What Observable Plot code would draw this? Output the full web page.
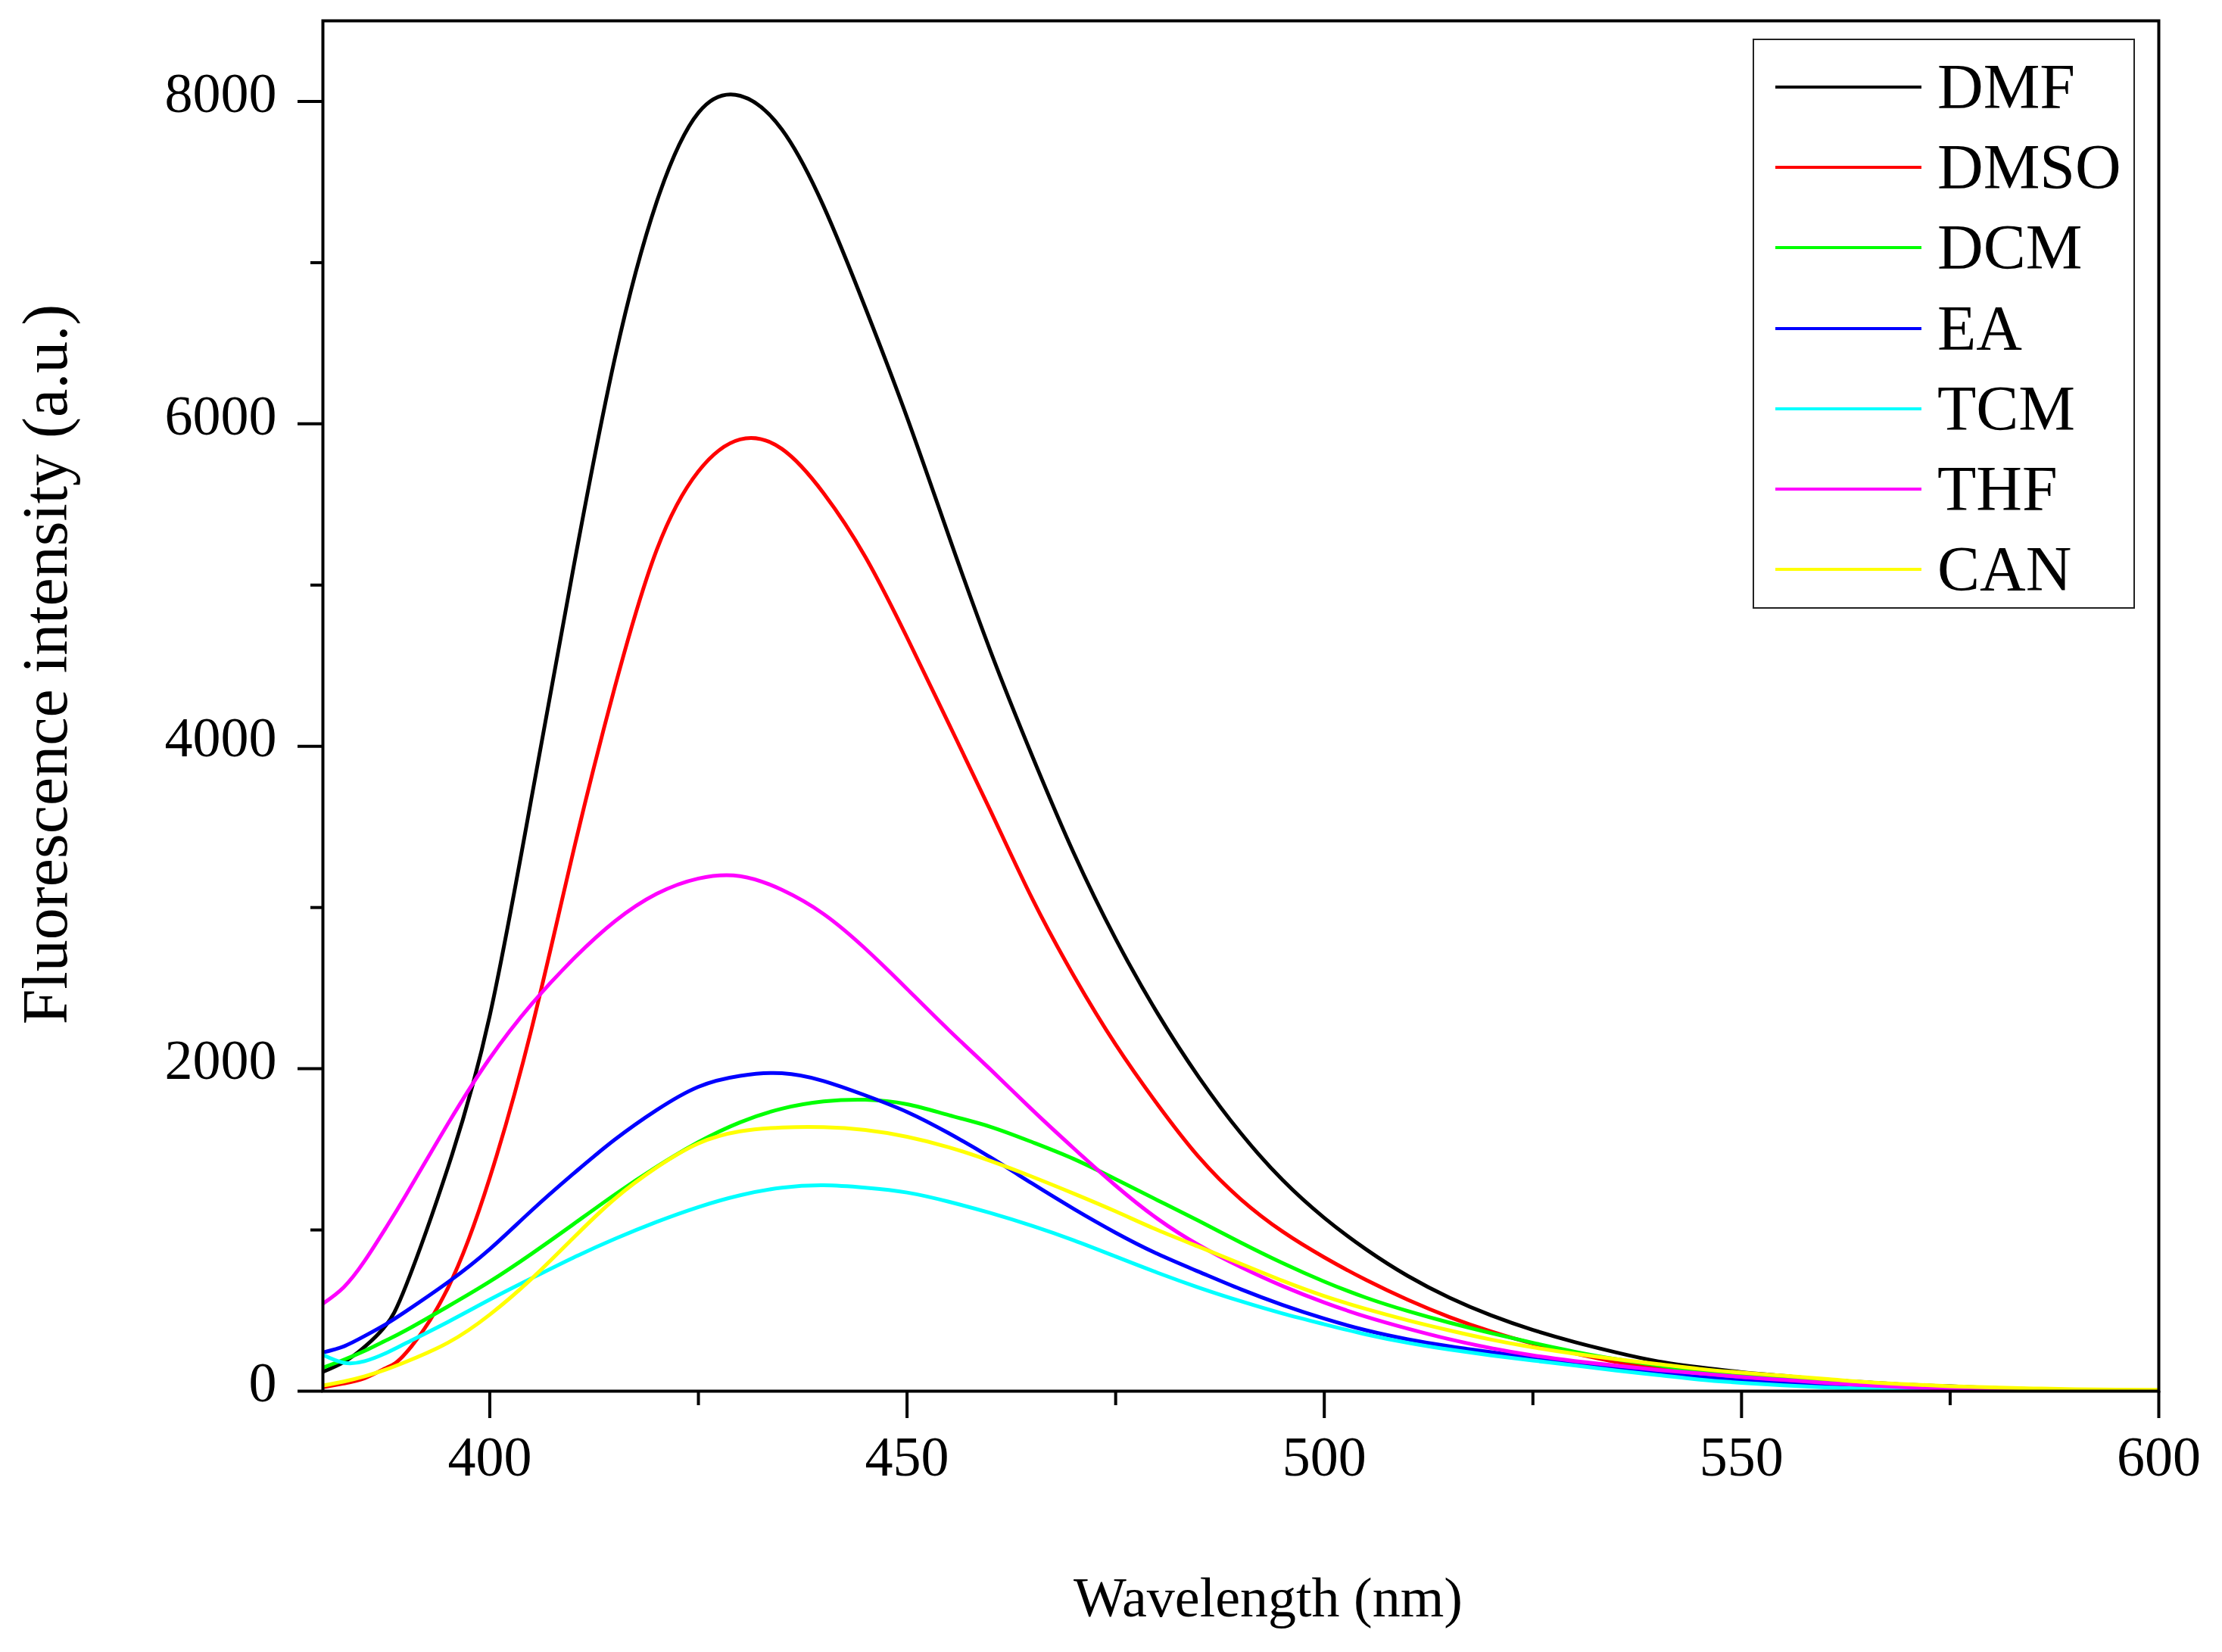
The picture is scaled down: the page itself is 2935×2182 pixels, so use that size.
<!DOCTYPE html>
<html><head><meta charset="utf-8">
<script src="https://cdn.jsdelivr.net/npm/d3@7"></script>
<script src="https://cdn.jsdelivr.net/npm/@observablehq/plot@0.6"></script>
<style>
body{margin:0;background:#fff;}
#wrap{position:relative;width:2935px;height:2182px;font-family:"Liberation Serif","Times New Roman",serif;}
#legend{position:absolute;left:2315px;top:51px;width:501px;height:749px;border:2px solid #222;}
.row{position:absolute;left:0;height:106px;display:flex;align-items:center;}
.sw{width:193px;height:0;border-top:4px solid;margin-left:28px;margin-right:21px;}
.lab{font-size:84px;line-height:1;color:#000;white-space:nowrap;}
</style></head><body><div id="wrap"></div>
<script>
const wavelength = [380,382.5,385,387.5,390,395,400,405,410,415,420,425,430,435,440,445,450,455,460,465,470,475,480,485,490,495,500,505,510,515,520,525,530,535,540,545,550,555,560,565,570,575,580,585,590,595,600];
const solvents = ["DMF","DMSO","DCM","EA","TCM","THF","CAN"];
const colors = ["#000000","#ff0000","#00ff00","#0000ff","#00ffff","#ff00ff","#ffff00"];

const DMF  = [120,180,275,405,660,1390,2330,3680,5100,6410,7377,7930,8035,7826,7350,6720,6040,5305,4590,3940,3335,2805,2345,1945,1600,1310,1075,880,715,580,470,380,305,240,185,148,118,95,72,55,40,30,20,13,8,4,1];
const DMSO = [25,48,80,142,240,642,1324,2246,3345,4370,5218,5706,5904,5845,5570,5175,4675,4140,3600,3055,2575,2150,1780,1450,1190,990,830,690,567,460,370,295,235,182,145,112,88,68,52,40,30,21,14,9,5,2,0];
const DCM  = [146,195,250,313,379,526,680,852,1035,1220,1392,1545,1668,1752,1797,1808,1780,1712,1640,1545,1440,1315,1185,1055,922,795,680,580,497,425,360,300,245,198,160,126,100,78,60,45,33,23,15,9,5,2,0];
const EA   = [240,278,342,414,497,676,881,1120,1348,1561,1744,1888,1956,1972,1924,1835,1732,1600,1450,1288,1130,983,852,740,632,535,450,378,322,278,242,208,175,145,115,88,66,48,34,22,14,8,5,3,2,1,0];
const TCM  = [225,176,186,235,299,430,568,700,828,945,1050,1142,1215,1262,1277,1262,1232,1175,1105,1025,935,835,735,642,558,482,415,352,300,258,222,190,160,128,100,72,52,36,24,15,8,3,1,0,0,0,0];
const THF  = [543,645,808,1009,1221,1660,2065,2400,2680,2915,3085,3180,3195,3110,2960,2745,2495,2240,1995,1745,1505,1275,1070,905,770,652,550,462,388,322,267,222,187,158,132,110,88,70,52,36,24,15,8,4,2,1,0];
const CAN  = [35,60,92,133,183,301,475,697,950,1194,1388,1537,1612,1636,1638,1620,1578,1513,1428,1330,1225,1115,1000,895,790,685,590,510,440,377,320,272,232,198,168,138,115,96,76,56,42,31,23,17,12,9,8];

const xMajor = [400,450,500,550,600];
const xMinor = [425,475,525,575];
const yMajor = [0,2000,4000,6000,8000];
const yMinor = [1000,3000,5000,7000];
const xTitle = "Wavelength (nm)";
const yTitle = "Fluorescence intensity (a.u.)";

const series = {DMF, DMSO, DCM, EA, TCM, THF, CAN};
const rows = solvents.flatMap(s => wavelength.map((w, i) => ({solvent: s, wavelength: w, intensity: series[s][i]})));

const chart = Plot.plot({
  width: 2935, height: 2182,
  marginLeft: 426, marginRight: 84, marginTop: 27, marginBottom: 345,
  style: {fontFamily: '"Liberation Serif", "Times New Roman", serif', background: "#fff", color: "#000", overflow: "visible"},
  x: {domain: [380, 600]},
  y: {domain: [0, 8500]},
  color: {domain: solvents, range: colors},
  marks: [
    Plot.line(rows, {x: "wavelength", y: "intensity", z: "solvent", stroke: "solvent", strokeWidth: 5, curve: "natural", clip: true}),
    Plot.frame({stroke: "#000", strokeWidth: 4}),
    Plot.axisX({ticks: xMajor, tickSize: 36, tickPadding: 23, fontSize: 74, strokeWidth: 4, tickFormat: d => String(d), label: null}),
    Plot.axisX({ticks: xMinor, tickSize: 19, strokeWidth: 4, tickFormat: () => "", label: null}),
    Plot.axisY({ticks: yMajor, tickSize: 33, strokeWidth: 4, tickFormat: () => "", label: null}),
    Plot.axisY({ticks: yMajor, tickSize: 0, tickPadding: 61, fontSize: 74, dy: -10, tickFormat: d => String(d), label: null}),
    Plot.axisY({ticks: yMinor, tickSize: 16, strokeWidth: 4, tickFormat: () => "", label: null}),
    Plot.text([xTitle], {frameAnchor: "bottom", textAnchor: "middle", lineAnchor: "middle", fontSize: 74, dx: 36, dy: 274, fill: "#000"}),
    Plot.text([yTitle], {frameAnchor: "left", textAnchor: "middle", lineAnchor: "middle", rotate: -90, fontSize: 84, dx: -365, dy: -55, fill: "#000"})
  ]
});

const wrap = document.getElementById("wrap");
wrap.appendChild(chart);

const legend = document.createElement("div");
legend.id = "legend";
solvents.forEach((s, i) => {
  const row = document.createElement("div");
  row.className = "row";
  row.style.top = (9 + i * 106.2) + "px";
  const sw = document.createElement("div");
  sw.className = "sw";
  sw.style.borderTopColor = colors[i];
  const lab = document.createElement("span");
  lab.className = "lab";
  lab.textContent = s;
  row.appendChild(sw);
  row.appendChild(lab);
  legend.appendChild(row);
});
wrap.appendChild(legend);
</script>
</body></html>
